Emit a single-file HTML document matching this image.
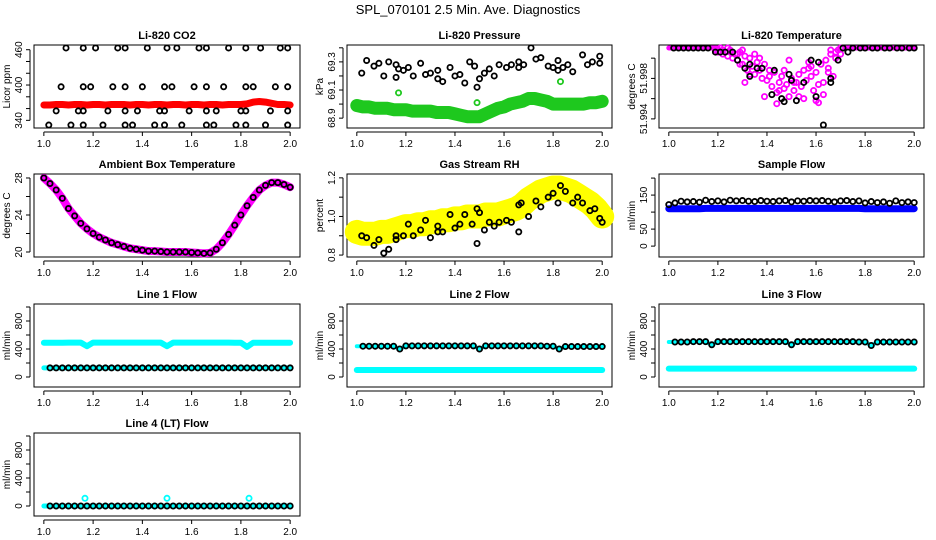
<!DOCTYPE html>
<html><head><meta charset="utf-8"><style>
html,body{margin:0;padding:0;background:#fff;}
svg{display:block;font-family:"Liberation Sans",sans-serif;}
</style></head><body>
<svg id="chart" width="936" height="540" viewBox="0 0 936 540" xmlns="http://www.w3.org/2000/svg">
<rect width="936" height="540" fill="#fff"/>
<text x="468" y="14" font-size="13" text-anchor="middle">SPL_070101  2.5 Min. Ave. Diagnostics</text>
</svg>
<script>
// ---- data ----
const xTicks = [1.0, 1.2, 1.4, 1.6, 1.8, 2.0];
const xTickLabels = ["1.0", "1.2", "1.4", "1.6", "1.8", "2.0"];
const gridX = [1.0,1.025,1.05,1.075,1.1,1.125,1.15,1.175,1.2,1.225,1.25,1.275,1.3,1.325,1.35,1.375,1.4,1.425,1.45,1.475,1.5,1.525,1.55,1.575,1.6,1.625,1.65,1.675,1.7,1.725,1.75,1.775,1.8,1.825,1.85,1.875,1.9,1.925,1.95,1.975,2.0];

// CO2
const co2Red = [366,366,367,367,366,367,367,366,367,367,366,367,367,367,366,367,367,366,367,367,366,367,367,366,367,367,366,367,367,366,367,367,367,368,371,372,371,369,367,367,366];
const co2BlackX = [1.09,1.16,1.21,1.30,1.33,1.42,1.50,1.54,1.63,1.66,1.75,1.82,1.88,1.96,1.99,
 1.07,1.16,1.19,1.28,1.33,1.40,1.49,1.52,1.61,1.66,1.73,1.82,1.85,1.94,1.99,
 1.05,1.14,1.16,1.26,1.33,1.38,1.47,1.49,1.59,1.66,1.70,1.80,1.82,1.92,1.99,
 1.02,1.11,1.16,1.24,1.33,1.36,1.45,1.49,1.56,1.66,1.69,1.78,1.82,1.90,1.99];
const co2BlackY = [463,463,463,463,463,463,463,463,463,463,463,463,463,463,463,
 397,397,397,397,397,397,397,397,397,397,397,397,397,397,397,
 356,356,356,356,356,356,356,356,356,356,356,356,356,356,356,
 332,332,332,332,332,332,332,332,332,332,332,332,332,332,332];

// Pressure
const presGreen = [68.99,68.98,68.98,68.97,68.97,68.97,68.96,68.96,68.96,68.95,68.95,68.95,68.95,68.94,68.94,68.94,68.93,68.92,68.91,68.91,68.91,68.93,68.95,68.97,68.98,69.0,69.01,69.02,69.04,69.04,69.03,69.02,69.0,69.0,69.0,69.0,69.0,69.0,69.01,69.01,69.02];
const presBlackX = [1.02,1.04,1.07,1.09,1.11,1.13,1.16,1.16,1.17,1.19,1.21,1.23,1.26,1.28,1.30,1.33,1.33,1.35,1.38,1.40,1.42,1.44,1.46,1.48,1.49,1.50,1.52,1.54,1.56,1.58,1.61,1.63,1.66,1.66,1.68,1.71,1.73,1.75,1.78,1.80,1.82,1.82,1.84,1.86,1.88,1.92,1.94,1.96,1.99,1.99];
const presBlackY = [69.22,69.31,69.27,69.29,69.2,69.3,69.28,69.19,69.25,69.24,69.26,69.2,69.29,69.21,69.22,69.18,69.24,69.16,69.26,69.2,69.21,69.15,69.3,69.27,69.12,69.18,69.22,69.25,69.2,69.28,69.26,69.28,69.3,69.26,69.28,69.4,69.32,69.33,69.27,69.26,69.31,69.24,69.26,69.28,69.23,69.35,69.28,69.3,69.34,69.29];
const presOutX = [1.17,1.49,1.83];
const presOutY = [69.08,69.01,69.16];

// Li-820 temperature
const tempMagX = [1.19,1.2,1.21,1.22,1.23,1.24,1.25,1.26,1.27,1.28,1.29,1.3,1.31,1.32,1.33,1.34,1.35,1.36,1.37,1.38,1.39,1.4,1.41,1.42,1.43,1.44,1.45,1.46,1.47,1.48,1.49,1.5,1.51,1.52,1.53,1.54,1.55,1.56,1.57,1.58,1.59,1.6,1.61,1.62,1.63,1.64,1.65,1.66,1.67,1.68,1.69,1.7,1.29,1.33,1.37,1.41,1.45,1.49,1.53,1.57,1.61,1.65,1.44,1.6,1.31,1.47,1.55,1.63,1.39,1.51,1.22,1.25,1.28,1.24,1.3,1.35,1.66,1.68,1.7,1.58];
const tempMagY = [52.0008,52.0006,52.001,52.0004,52.0006,52.0002,52.0008,52.0,52.0004,51.9998,52.0006,51.9994,52.0002,51.9988,52.0,51.9992,51.9984,51.9996,51.9988,51.998,51.9994,51.9978,51.9988,51.9972,51.9986,51.9966,51.9976,51.9982,51.997,51.9974,51.9962,51.998,51.9968,51.9976,51.9984,51.9972,51.9988,51.9978,51.999,51.9982,51.9968,51.9986,51.9956,51.9994,51.9976,51.9998,51.9986,52.0004,51.9982,52.0,52.0008,52.001,51.9994,51.9984,52.0,51.9982,51.9968,51.9998,51.9962,51.9996,51.9974,51.999,51.9955,51.9958,51.9976,51.9988,51.996,51.9964,51.9962,51.9976,52.0008,52.0006,52.0004,52.001,52.0008,52.0004,52.0008,52.0006,52.0004,51.9992];
const tempBlackX = [1.02,1.04,1.06,1.08,1.1,1.12,1.14,1.16,1.19,1.21,1.23,1.26,1.28,1.31,1.33,1.33,1.36,1.38,1.42,1.43,1.46,1.47,1.49,1.5,1.52,1.55,1.58,1.6,1.61,1.63,1.66,1.66,1.69,1.71,1.73,1.75,1.78,1.8,1.83,1.85,1.88,1.9,1.93,1.95,1.98,2.0];
const tempBlackY = [52.001,52.001,52.001,52.001,52.001,52.001,52.001,52.001,52.0006,52.0006,52.0006,52.0006,51.9998,51.999,51.9994,51.9982,51.999,51.999,51.9964,51.9988,51.996,51.9957,51.9984,51.9978,51.9958,51.9976,51.9998,51.9962,51.9996,51.9934,51.998,51.9976,51.9998,52.001,52.0006,52.001,52.001,52.001,52.001,52.001,52.001,52.001,52.001,52.001,52.001,52.001];

// Ambient box temperature
const ambMag = [28.0,27.4,26.7,25.8,24.7,23.9,23.1,22.5,22.0,21.6,21.3,21.0,20.8,20.6,20.4,20.3,20.2,20.1,20.1,20.05,20.0,20.0,20.0,20.0,19.95,19.9,19.85,19.9,20.3,21.0,21.9,22.9,24.0,25.0,25.9,26.7,27.2,27.5,27.5,27.3,27.0];

// Gas stream RH
const rhYellow = [0.92,0.91,0.91,0.91,0.92,0.92,0.93,0.94,0.95,0.95,0.96,0.96,0.97,0.97,0.98,0.98,0.99,0.99,1.0,1.0,1.0,1.01,1.01,1.01,1.02,1.03,1.04,1.06,1.09,1.11,1.13,1.14,1.15,1.15,1.14,1.13,1.11,1.09,1.07,1.04,1.0];
const rhBlackX = [1.02,1.04,1.07,1.09,1.11,1.13,1.16,1.16,1.19,1.21,1.23,1.26,1.28,1.30,1.33,1.33,1.35,1.38,1.40,1.42,1.44,1.47,1.49,1.49,1.50,1.52,1.54,1.56,1.58,1.61,1.63,1.66,1.66,1.67,1.70,1.73,1.75,1.78,1.80,1.82,1.83,1.85,1.88,1.90,1.92,1.95,1.97,1.99,2.0];
const rhBlackY = [0.90,0.89,0.85,0.88,0.81,0.83,0.90,0.88,0.90,0.96,0.90,0.93,0.98,0.89,0.95,0.92,0.92,1.01,0.94,0.96,1.01,0.96,1.04,0.86,1.02,0.93,0.97,0.95,0.97,0.98,0.97,1.06,0.92,1.07,1.00,1.08,1.05,1.10,1.12,1.07,1.16,1.13,1.07,1.10,1.07,1.03,1.04,0.99,0.97];

// Sample flow
const sampBlue = [110,110,110,110,110,110,111,111,111,111,111,111,111,111,111,111,111,111,111,111,111,111,111,111,111,111,111,111,111,111,111,111,110,110,110,110,110,110,110,110,110];
const sampBlack = [122,127,132,130,131,129,135,131,133,130,135,133,134,132,131,134,132,131,133,134,130,133,132,134,133,134,132,130,133,134,131,133,127,131,128,130,126,133,128,130,128];

// Line flows
const l1Cyan = [490,490,490,490,492,492,492,440,492,492,492,492,492,492,492,492,492,492,492,492,440,492,492,492,492,492,492,492,492,492,492,490,490,430,490,490,490,490,490,490,490];
const l1Black = [130,130,130,130,130,130,130,130,130,130,130,130,130,130,130,130,130,130,130,130,130,130,130,130,130,130,130,130,130,130,130,130,130,130,130,130,130,130,130,130,130];
const l2Cyan = [100,100,100,100,100,100,100,100,100,100,100,100,100,100,100,100,100,100,100,100,100,100,100,100,100,100,100,100,100,100,100,100,100,100,100,100,100,100,100,100,100];
const l2Black = [440,440,440,440,440,440,440,400,445,445,445,445,445,445,445,445,445,445,445,445,400,445,445,445,445,445,445,445,445,445,445,440,440,400,435,435,435,435,435,435,435];
const l3Cyan = [120,120,120,120,120,120,120,120,120,120,120,120,120,120,120,120,120,120,120,120,120,120,120,120,120,120,120,120,120,120,120,120,120,120,120,120,120,120,120,120,120];
const l3Black = [500,500,500,500,505,505,505,460,505,505,505,505,505,505,505,505,505,505,505,505,460,505,505,505,505,505,505,505,505,505,505,500,500,450,500,500,500,500,500,500,500];
const l4Black = [0,0,0,0,0,0,0,0,0,0,0,0,0,0,0,0,0,0,0,0,0,0,0,0,0,0,0,0,0,0,0,0,0,0,0,0,0,0,0,0,0];
const l4OutX = [1.167,1.5,1.833];
const l4OutY = [110,110,110];

// ---- drawing ----
const NS = "http://www.w3.org/2000/svg";
const svg = document.getElementById("chart");
const cols = [{l:34,r:300},{l:347,r:612},{l:659,r:924}];
const rows = [{t:45,b:128},{t:174,b:257},{t:304,b:387},{t:433,b:516}];
function mk(tag, attrs, parent){
  const e = document.createElementNS(NS, tag);
  for (const k in attrs) e.setAttribute(k, attrs[k]);
  (parent||svg).appendChild(e);
  return e;
}
function panel(name, title, ci, ri, ylim, yticks, ylabels, ylab){
  const c = cols[ci], r = rows[ri];
  const g = mk("g", {});
  
  
  const sx = v => c.l + (v - 0.96) / 1.08 * (c.r - c.l);
  const yr = ylim[1] - ylim[0];
  const sy = v => r.b - (v - ylim[0]) / yr * (r.b - r.t);
  const box = mk("rect", {x:c.l, y:r.t, width:c.r-c.l, height:r.b-r.t, fill:"none", stroke:"#000", "stroke-width":1}, g);
  
  
  const t = mk("text", {x:(c.l+c.r)/2, y:r.t-6, "font-size":11, "font-weight":"bold", "text-anchor":"middle"}, g);
  t.textContent = title;
  
  
  const xa = mk("g", {}, g);
  
  
  const ay = r.b + 4;
  mk("line", {x1:sx(xTicks[0]), x2:sx(xTicks[xTicks.length-1]), y1:ay, y2:ay, stroke:"#000"}, xa);
  xTicks.forEach((v,i)=>{
    mk("line", {x1:sx(v), x2:sx(v), y1:ay, y2:ay+4, stroke:"#000"}, xa);
    const tl = mk("text", {x:sx(v), y:ay+15, "font-size":10, "text-anchor":"middle"}, xa);
    tl.textContent = xTickLabels[i];
    
    
  });
  const ya = mk("g", {}, g);
  
  
  const ax = c.l - 4;
  mk("line", {x1:ax, x2:ax, y1:sy(yticks[0]), y2:sy(yticks[yticks.length-1]), stroke:"#000"}, ya);
  yticks.forEach((v,i)=>{
    mk("line", {x1:ax-4, x2:ax, y1:sy(v), y2:sy(v), stroke:"#000"}, ya);
    if (ylabels[i]) {
      const tl = mk("text", {x:0, y:0, "font-size":10, "text-anchor":"middle", transform:`translate(${ax-8},${sy(v)}) rotate(-90)`}, ya);
      tl.textContent = ylabels[i];
      
      
    }
  });
  const yl = mk("text", {x:0, y:0, "font-size":10, "text-anchor":"middle", transform:`translate(${c.l-24},${(r.t+r.b)/2}) rotate(-90)`}, g);
  yl.textContent = ylab;
  
  
  const clip = mk("g", {}, g);
  return {g:clip, sx, sy};
}
function pts(p, xs, ys, color, name, r){
  r = r || 2.6;
  const gg = mk("g", {}, p.g);
  
  
  xs.forEach((x,i)=>{
    const c = mk("circle", {cx:p.sx(x), cy:p.sy(ys[i]), r:r, fill:"none", stroke:color, "stroke-width":1.8}, gg);
    
  });
}
function band(p, xs, ys, color, name, w){
  const d = xs.map((x,i)=>p.sx(x).toFixed(1)+","+p.sy(ys[i]).toFixed(1)).join(" ");
  const pl = mk("polyline", {points:d, fill:"none", stroke:color, "stroke-width":w, "stroke-linejoin":"round", "stroke-linecap":"round"}, p.g);
  
  
}

// Row 1
let p = panel("co2-panel","Li-820 CO2",0,0,[327,468],[340,360,380,400,420,440,460],["340","","","400","","","460"],"Licor ppm");
band(p, gridX, co2Red, "#f00", "co2-band", 7);
pts(p, co2BlackX, co2BlackY, "#000", "co2-points");

p = panel("pressure-panel","Li-820 Pressure",1,0,[68.83,69.42],[68.9,69.0,69.1,69.2,69.3,69.4],["68.9","","69.1","","69.3",""],"kPa");
band(p, gridX, presGreen, "#1ec81e", "pressure-band", 13);
pts(p, presOutX, presOutY, "#1ec81e", "pressure-green-outliers");
pts(p, presBlackX, presBlackY, "#000", "pressure-points");

p = panel("li820-temp-panel","Li-820 Temperature",2,0,[51.9931,52.0013],[51.994,51.996,51.998,52.0],["51.994","","51.998",""],"degrees C");
band(p, [1.0,1.2], [52.001,52.001], "#f0f", "temp-top-band-left", 5);
band(p, [1.72,2.0], [52.001,52.001], "#f0f", "temp-top-band-right", 5);
pts(p, tempMagX, tempMagY, "#f0f", "temp-magenta-points");
pts(p, tempBlackX, tempBlackY, "#000", "temp-points");

// Row 2
p = panel("ambient-panel","Ambient Box Temperature",0,1,[19.46,28.43],[20,22,24,26,28],["20","","24","","28"],"degrees C");
band(p, gridX, ambMag, "#f0f", "ambient-band", 8);
pts(p, gridX, ambMag, "#000", "ambient-points");

p = panel("rh-panel","Gas Stream RH",1,1,[0.79,1.22],[0.8,0.9,1.0,1.1,1.2],["0.8","","1.0","","1.2"],"percent");
band(p, gridX, rhYellow, "#ff0", "rh-band", 24);
pts(p, rhBlackX, rhBlackY, "#000", "rh-points");

p = panel("sample-flow-panel","Sample Flow",2,1,[-32,212],[0,50,100,150,200],["0","50","","150",""],"ml/min");
band(p, gridX, sampBlue, "#00f", "sample-band", 7);
pts(p, gridX, sampBlack, "#000", "sample-points");

// Row 3
const flowTicks = [0,200,400,600,800,1000];
const flowLabels = ["0","","400","","800",""];
p = panel("line1-panel","Line 1 Flow",0,2,[-143,1043],flowTicks,flowLabels,"ml/min");
band(p, gridX, l1Cyan, "#0ff", "line1-cyan", 6);
band(p, gridX, l1Black, "#0ff", "line1-cyan-low", 5);
pts(p, gridX.slice(1), l1Black.slice(1), "#000", "line1-points");

p = panel("line2-panel","Line 2 Flow",1,2,[-143,1043],flowTicks,flowLabels,"ml/min");
band(p, gridX, l2Cyan, "#0ff", "line2-cyan", 6);
band(p, gridX, l2Black, "#0ff", "line2-cyan-high", 4);
pts(p, gridX.slice(1), l2Black.slice(1), "#000", "line2-points");

p = panel("line3-panel","Line 3 Flow",2,2,[-143,1043],flowTicks,flowLabels,"ml/min");
band(p, gridX, l3Cyan, "#0ff", "line3-cyan", 6);
band(p, gridX, l3Black, "#0ff", "line3-cyan-high", 4);
pts(p, gridX.slice(1), l3Black.slice(1), "#000", "line3-points");

// Row 4
p = panel("line4-panel","Line 4 (LT) Flow",0,3,[-143,1043],flowTicks,flowLabels,"ml/min");
band(p, gridX, l4Black, "#0ff", "line4-cyan", 5);
pts(p, l4OutX, l4OutY, "#0ff", "line4-cyan-outliers");
pts(p, gridX.slice(1), l4Black.slice(1), "#000", "line4-points");
</script>
</body></html>
